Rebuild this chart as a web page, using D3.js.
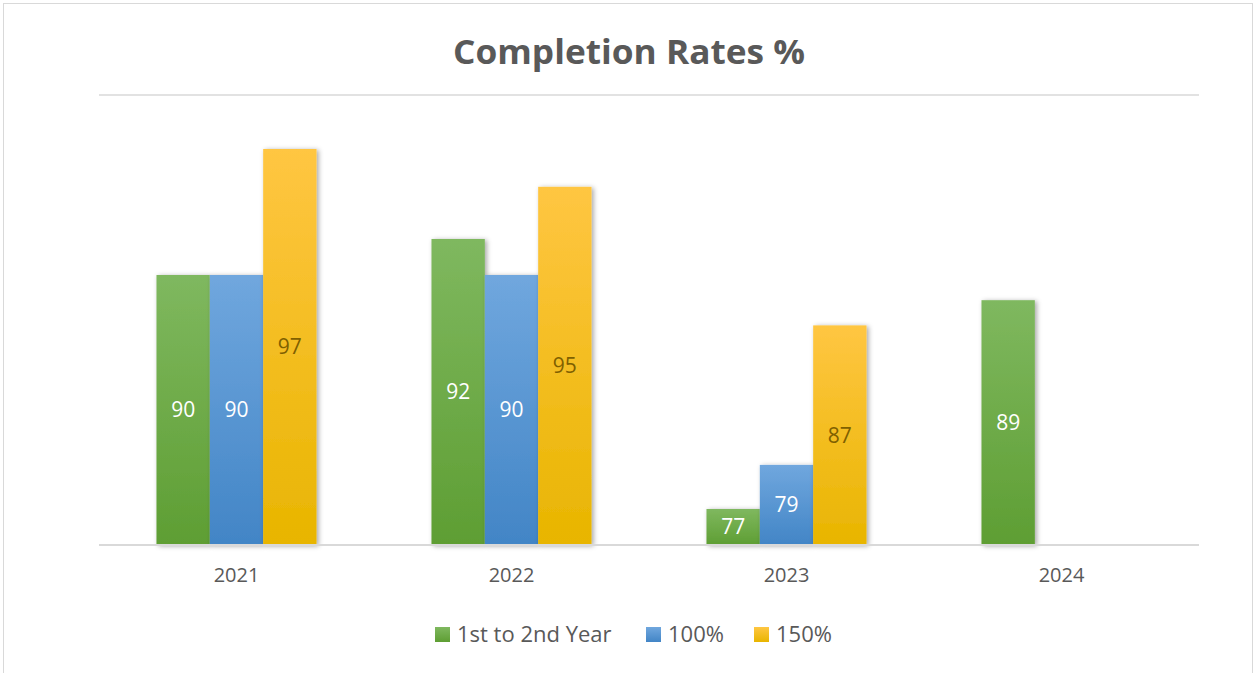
<!DOCTYPE html>
<html>
<head>
<meta charset="utf-8">
<script src="https://cdn.jsdelivr.net/npm/d3@7"></script>
<style>
body { margin: 0; background: #fff; }
text { font-family: "Open Sans", sans-serif; }
</style>
</head>
<body>
<div id="canvas"></div>
<script>
// ----------------------------------------------------------
// DATA -----------------------------------------------------
// ----------------------------------------------------------
var years = ["2021", "2022", "2023", "2024"];
var series = ["1st to 2nd Year", "100%", "150%"];
// bar heights, labels show them rounded
var values_first = [90, 92, 77, 88.6];
var values_100 = [90, 90, 79.45, null];
var values_150 = [97, 94.9, 87.2, null];
var y_domain = [75, 100];

// ----------------------------------------------------------
// LAYOUT ---------------------------------------------------
// ----------------------------------------------------------
var W = 1254, H = 673;
var plot = { left: 99, right: 1199, top: 95, bottom: 545 };
var colors = [
  { top: "#7fb85f", bottom: "#5e9e33", label: "#ffffff" },
  { top: "#70a7de", bottom: "#4285c6", label: "#ffffff" },
  { top: "#ffc642", bottom: "#e8b500", label: "#7f6000" }
];

var svg = d3.select("#canvas").append("svg")
  .attr("width", W)
  .attr("height", H);

var defs = svg.append("defs");
colors.forEach(function(c, i) {
  var g = defs.append("linearGradient")
    .attr("id", "grad_" + i)
    .attr("x1", 0).attr("y1", 0).attr("x2", 0).attr("y2", 1);
  g.append("stop").attr("offset", "0%").attr("stop-color", c.top);
  g.append("stop").attr("offset", "100%").attr("stop-color", c.bottom);
});
var shadow = defs.append("filter").attr("id", "shadow")
  .attr("x", "-20%").attr("y", "-10%").attr("width", "150%").attr("height", "130%");
shadow.append("feDropShadow")
  .attr("dx", 2).attr("dy", 1).attr("stdDeviation", 2.5)
  .attr("flood-color", "#000").attr("flood-opacity", 0.35);

// outer chart border
svg.append("rect")
  .attr("x", 3.5).attr("y", 3.5)
  .attr("width", 1249).attr("height", 700)
  .attr("fill", "none")
  .attr("stroke", "#d9d9d9")
  .attr("stroke-width", 1);

// ----------------------------------------------------------
// SCALES ---------------------------------------------------
// ----------------------------------------------------------
var x0 = d3.scaleBand()
  .domain(years)
  .range([plot.left, plot.right])
  .paddingInner(0.418)
  .paddingOuter(0.209);
var x1 = d3.scaleBand()
  .domain(series)
  .range([0, x0.bandwidth()]);
var y = d3.scaleLinear()
  .domain(y_domain)
  .range([plot.bottom, plot.top]);

// top gridline
svg.append("line")
  .attr("x1", plot.left).attr("x2", plot.right)
  .attr("y1", y(y_domain[1])).attr("y2", y(y_domain[1]))
  .attr("stroke", "#d9d9d9").attr("stroke-width", 1.5);

// ----------------------------------------------------------
// BARS -----------------------------------------------------
// ----------------------------------------------------------
var all_values = [values_first, values_100, values_150];
var rows = [];
years.forEach(function(yr, i) {
  series.forEach(function(s, j) {
    var v = all_values[j][i];
    if (v != null) rows.push({ year: yr, key: s, idx: j, value: v });
  });
});

var bar_group = svg.append("g").attr("class", "bars");
bar_group.selectAll("rect")
  .data(rows)
  .enter()
  .append("rect")
  .attr("x", function(d) { return x0(d.year) + x1(d.key); })
  .attr("y", function(d) { return y(d.value); })
  .attr("width", x1.bandwidth())
  .attr("height", function(d) { return y(y_domain[0]) - y(d.value); })
  .attr("fill", function(d) { return "url(#grad_" + d.idx + ")"; })
  .attr("filter", "url(#shadow)");

// labels
var fmt = d3.format(".0f");
bar_group.selectAll("text")
  .data(rows)
  .enter()
  .append("text")
  .attr("x", function(d) { return x0(d.year) + x1(d.key) + x1.bandwidth() / 2; })
  .attr("y", function(d) { return (y(d.value) + y(y_domain[0])) / 2; })
  .attr("dy", "0.35em")
  .attr("text-anchor", "middle")
  .style("font-size", "21px")
  .style("fill", function(d) { return colors[d.idx].label; })
  .text(function(d) { return fmt(d.value); });

// ----------------------------------------------------------
// AXIS -----------------------------------------------------
// ----------------------------------------------------------
var x_axis = svg.append("g")
  .attr("transform", "translate(0," + plot.bottom + ")")
  .call(d3.axisBottom(x0).tickSize(0).tickPadding(23));
x_axis.select(".domain")
  .attr("stroke", "#d9d9d9").attr("stroke-width", 2)
  .attr("d", "M" + plot.left + ",0H" + plot.right);
x_axis.selectAll("text")
  .style("font-family", "'Open Sans', sans-serif")
  .style("font-size", "20px")
  .style("fill", "#595959");

// ----------------------------------------------------------
// TEXT -----------------------------------------------------
// ----------------------------------------------------------
svg.append("text")
  .attr("x", 629)
  .attr("y", 64)
  .attr("text-anchor", "middle")
  .attr("textLength", 352)
  .attr("lengthAdjust", "spacingAndGlyphs")
  .style("font-size", "34px")
  .style("font-weight", "700")
  .style("fill", "#595959")
  .text("Completion Rates %");

// legend
var legend_pos = [435, 646, 754];
var legend = svg.append("g").attr("class", "legend");
series.forEach(function(s, j) {
  legend.append("rect")
    .attr("x", legend_pos[j]).attr("y", 627)
    .attr("width", 15).attr("height", 15)
    .attr("fill", "url(#grad_" + j + ")");
  legend.append("text")
    .attr("x", legend_pos[j] + 22).attr("y", 634)
    .attr("dy", "0.35em")
    .style("font-size", "22px")
    .style("fill", "#595959")
    .text(s);
});
</script>
</body>
</html>
